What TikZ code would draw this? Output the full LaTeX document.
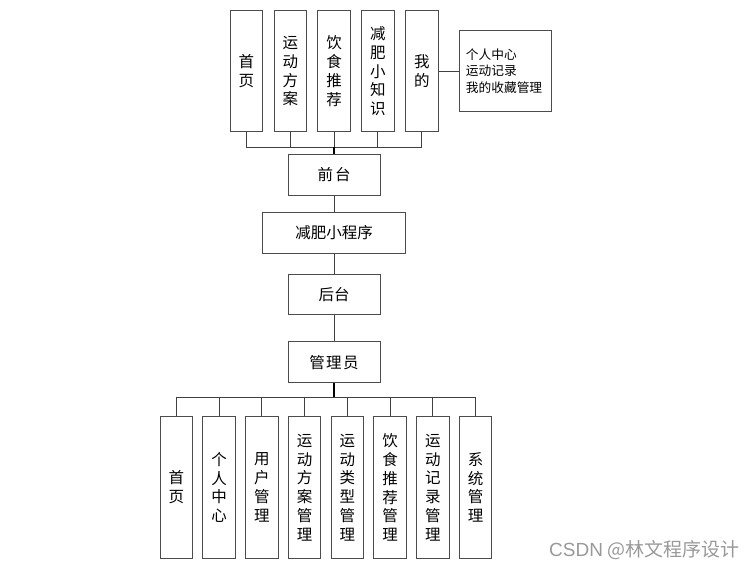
\documentclass[tikz,border=0pt]{standalone}
\usepackage{fontspec}
\setmainfont{Noto Sans CJK SC}
\newfontfamily\wmfont{Liberation Sans}
\begin{document}
\begin{tikzpicture}[x=1pt,y=-1pt,
  box/.style={draw=black!70, line width=0.9pt, fill=white, inner sep=0pt, align=center,
    font=\fontsize{15.5}{18.8}\selectfont},
  vbox/.style={box, minimum width=32.5pt, text width=32pt},
  tbox/.style={vbox, minimum height=121.3pt},
  bbox/.style={vbox, minimum height=141.6pt},
  hbox/.style={box, minimum width=92pt, minimum height=41pt},
  link/.style={draw=black!75, line width=0.9pt},
  trunk/.style={draw=black, line width=1.8pt}]
\useasboundingbox (0,0) rectangle (756,569);
% top row
\node[tbox] (t1) at (246.3,71.3) {首\\页};
\node[tbox] (t2) at (290.3,71.3) {运\\动\\方\\案};
\node[tbox] (t3) at (334,71.3) {饮\\食\\推\\荐};
\node[tbox] (t4) at (377.8,71.3) {减\\肥\\小\\知\\识};
\node[tbox] (t5) at (421.8,71.3) {我\\的};
\node[box, minimum width=91.7pt, minimum height=80.3pt, text width=78.5pt, align=left,
  font=\fontsize{12.7}{16.3}\selectfont] (side) at (505.2,70.9) {个人中心\\运动记录\\我的收藏管理};
\draw[link] (t5.east |- 0,71) -- (side.west |- 0,71);
% middle
\node[hbox] (qt) at (334,174.9) {前\hspace{2pt}台};
\node[hbox, minimum width=142.6pt, minimum height=40.6pt] (app) at (334,233) {减肥小程序};
\node[hbox, minimum height=40.3pt] (ht) at (334,294.2) {后台};
\node[hbox] (gly) at (334,362.2) {管\hspace{1.5pt}理\hspace{1.5pt}员};
\coordinate (tbus) at (334,147);
\foreach \i in {1,2,4,5} \draw[link] (t\i.south) |- (tbus);
\draw[link] (t3.south) -- (tbus);
\draw[trunk] (tbus) -- (qt.north);
\draw[link] (qt.south) -- (app.north);
\draw[link] (app.south) -- (ht.north);
\draw[link] (ht.south) -- (gly.north);
% bottom row
\node[bbox] (b1) at (176.3,487.5) {首\\页};
\node[bbox] (b2) at (219,487.5) {个\\人\\中\\心};
\node[bbox] (b3) at (261.8,487.5) {用\\户\\管\\理};
\node[bbox] (b4) at (304.5,487.5) {运\\动\\方\\案\\管\\理};
\node[bbox] (b5) at (347.3,487.5) {运\\动\\类\\型\\管\\理};
\node[bbox] (b6) at (390,487.5) {饮\\食\\推\\荐\\管\\理};
\node[bbox] (b7) at (432.8,487.5) {运\\动\\记\\录\\管\\理};
\node[bbox] (b8) at (475.6,487.5) {系\\统\\管\\理};
\coordinate (bbus) at (334,397.3);
\draw[trunk] (gly.south) -- (bbus);
\foreach \i in {1,...,8} \draw[link] (bbus) -| (b\i.north);
% watermark
\node[anchor=west, text=black!40, inner sep=0pt, font=\fontsize{19}{20}\selectfont] (wm) at (549,550) {{\wmfont CSDN} @林文程序设计};
\end{tikzpicture}
\end{document}
